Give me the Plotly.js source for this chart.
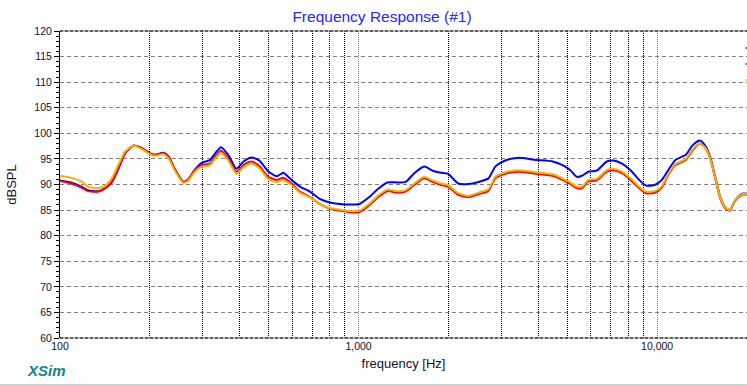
<!DOCTYPE html>
<html>
<head>
<meta charset="utf-8">
<script src="https://cdn.plot.ly/plotly-3.0.1.min.js"></script>
<style>html,body{margin:0;padding:0;background:#fff;}#chart{width:747px;height:386px;}</style>
</head>
<body>
<div id="chart"></div>
<script>
// Frequency points (Hz)
const freq = [100,109,118,124,134,141,149,157,165,176,188,200,208,222,231,243,259,269,283,298,318,330,346,366,390,412,438,467,498,532,560,596,636,687,741,800,865,934,1008,1089,1166,1247,1348,1438,1536,1660,1771,1890,1993,2156,2330,2520,2724,2870,3100,3400,3730,3920,4470,4820,5120,5380,5600,5880,6270,6780,7140,7630,8150,8710,9180,9800,10340,10900,11510,12470,13160,13890,14450,15050,15650,16270,16930,17510,18300,19270,19930,20560];
// Series values (dBSPL)
const blueSPL = [90.8,90.4,89.6,88.9,88.7,89.2,90.4,93.1,96.0,97.6,97.1,96.1,95.8,96.2,95.5,92.9,90.5,91.0,92.9,94.2,94.8,96.0,97.3,95.8,93.1,94.5,95.3,94.6,92.6,91.6,92.3,90.9,89.6,88.6,87.2,86.5,86.2,86.1,86.2,87.6,89.2,90.4,90.4,90.5,92.2,93.5,92.7,92.3,92.1,90.2,90.1,90.5,91.2,93.5,94.7,95.2,95.0,94.8,94.5,93.8,92.8,91.5,91.7,92.5,92.7,94.5,94.7,94.1,92.8,90.9,89.8,89.9,90.8,92.8,94.8,95.8,97.7,98.6,97.7,95.4,91.5,87.6,85.5,85.0,87.0,88.2,88.2,87.8];
const redSPL = [90.7,90.2,89.4,88.7,88.6,89.2,90.5,93.2,96.1,97.6,97.1,96.1,95.8,96.1,95.4,92.8,90.5,91.0,92.8,93.8,94.1,95.4,96.6,95.1,92.5,93.8,94.5,93.5,91.5,90.9,91.3,90.2,88.6,87.6,86.2,85.3,84.9,84.6,84.6,86.0,87.6,88.7,88.4,88.6,89.9,91.2,90.5,89.9,89.6,88.0,87.5,88.1,88.8,91.2,92.1,92.5,92.3,92.1,91.7,90.9,90.1,89.3,89.3,90.6,90.8,92.5,92.8,92.2,90.9,89.3,88.3,88.4,89.3,91.9,93.8,94.8,96.7,98.0,97.3,95.1,91.2,87.3,85.3,84.9,87.0,88.0,88.0,87.8];
const orangeSPL = [91.7,91.3,90.6,89.6,89.3,89.7,91.2,93.9,96.4,97.6,96.9,95.9,95.6,95.9,95.1,92.6,90.3,90.8,92.5,93.5,93.8,95.0,96.2,94.7,92.1,93.4,94.1,93.1,91.1,90.5,90.9,89.9,88.4,87.5,86.2,85.4,85.1,84.8,84.9,86.3,87.9,89.0,88.7,88.9,90.2,91.5,90.8,90.2,89.9,88.3,87.8,88.4,89.1,91.5,92.4,92.8,92.6,92.4,92.0,91.2,90.4,89.6,89.6,90.9,91.1,92.8,93.1,92.5,91.2,89.6,88.6,88.7,89.6,92.1,94.0,95.0,96.9,98.0,97.3,95.1,91.3,87.5,85.5,85.0,87.1,88.1,88.1,87.9];
// Tick definitions
const xMajorTicks = [100,1000,10000];
const xMajorLabels = ['100','1,000','10,000'];
const xMinorTicks = [200,300,400,500,600,700,800,900,2000,3000,4000,5000,6000,7000,8000,9000];
const seriesColors = ['#0000ff','#ff0000','#f2b400'];

const FONT = 'Liberation Sans, Arial, sans-serif';
const TXT = '#101030';

const mk = (y, c, name) => ({
  x: freq, y: y, type: 'scatter', mode: 'lines', name: name,
  line: {color: c, width: 2, shape: 'spline', smoothing: 0.6},
  hoverinfo: 'x+y'
});
const data = [
  mk(blueSPL, seriesColors[0], 'Trace 1'),
  mk(redSPL, seriesColors[1], 'Trace 2'),
  mk(orangeSPL, seriesColors[2], 'Trace 3')
];

const legendY = [1 - (48-31)/307, 1 - (64-31)/307, 1 - (80-31)/307];
const shapes = [
  {type:'line', xref:'paper', yref:'paper', x0:0, x1:1, y0:1, y1:1, line:{color:'#808080', width:1}},
  {type:'line', xref:'paper', yref:'paper', x0:0, x1:1, y0:1, y1:1, line:{color:'#000', width:1, dash:'3px,2px'}},
  {type:'line', xref:'paper', yref:'paper', x0:0, x1:1, y0:0, y1:0, line:{color:'#808080', width:1}},
  {type:'line', xref:'paper', yref:'paper', x0:0, x1:1, y0:0, y1:0, line:{color:'#000', width:1, dash:'3px,2px'}},
  {type:'line', xref:'paper', yref:'paper', x0:-60/687, x1:1, y0:-(385-338)/307, y1:-(385-338)/307, line:{color:'#a0a0a0', width:1}}
];
seriesColors.forEach((c,i)=>{
  shapes.push({type:'line', xref:'paper', yref:'paper', x0:(745.5-60)/687, x1:1.002, y0:legendY[i], y1:legendY[i], line:{color:c, width:1.5}});
});

const layout = {
  width: 747, height: 386,
  margin: {l:60, r:0, t:31, b:48, pad:0},
  paper_bgcolor:'#fff', plot_bgcolor:'#fff',
  showlegend: false,
  font: {family: FONT, size: 10.5, color: TXT},
  title: {text:'Frequency Response (#1)', font:{family:FONT, size:15.5, color:'#2626ff'},
          xref:'container', x: 382/747, xanchor:'center', yref:'container', y: 1-17/386, yanchor:'middle'},
  xaxis: {
    type:'log', range:[2, Math.log10(20000)], autorange:false,
    tickmode:'array', tickvals:xMajorTicks, ticktext:xMajorLabels,
    ticks:'', showline:false, zeroline:false,
    showgrid:true, gridcolor:'#808080', gridwidth:1, griddash:'1px,1px',
    tickfont:{family:FONT, size:10.5, color:TXT},
    minor:{tickmode:'array', tickvals:xMinorTicks, showgrid:true, gridcolor:'#000', gridwidth:1, griddash:'1px,1px', ticks:''},
    title:{text:'frequency [Hz]', font:{family:FONT, size:13, color:TXT}, standoff:8}
  },
  yaxis: {
    range:[60,120], autorange:false,
    tickmode:'linear', tick0:60, dtick:5,
    ticks:'outside', ticklen:5, tickwidth:1, tickcolor:'#000',
    showline:true, linecolor:'#000', linewidth:1, zeroline:false,
    showgrid:true, gridcolor:'#808080', gridwidth:1, griddash:'4px,3px',
    tickfont:{family:FONT, size:10.5, color:TXT},
    minor:{dtick:1, tick0:60, ticks:'outside', ticklen:3, tickcolor:'#000', tickwidth:1, showgrid:false},
    title:{text:'dBSPL', font:{family:FONT, size:13, color:TXT}, standoff:14}
  },
  shapes: shapes,
  annotations: [
    {text:'<b><i>XSim</i></b>', xref:'paper', yref:'paper', x:(25-60)/687, xanchor:'left',
     y:-(370-338)/307, yanchor:'middle', showarrow:false,
     font:{family:FONT, size:15, color:'#128585'}}
  ]
};

Plotly.newPlot('chart', data, layout, {displayModeBar:false, staticPlot:true});
</script>
</body>
</html>
